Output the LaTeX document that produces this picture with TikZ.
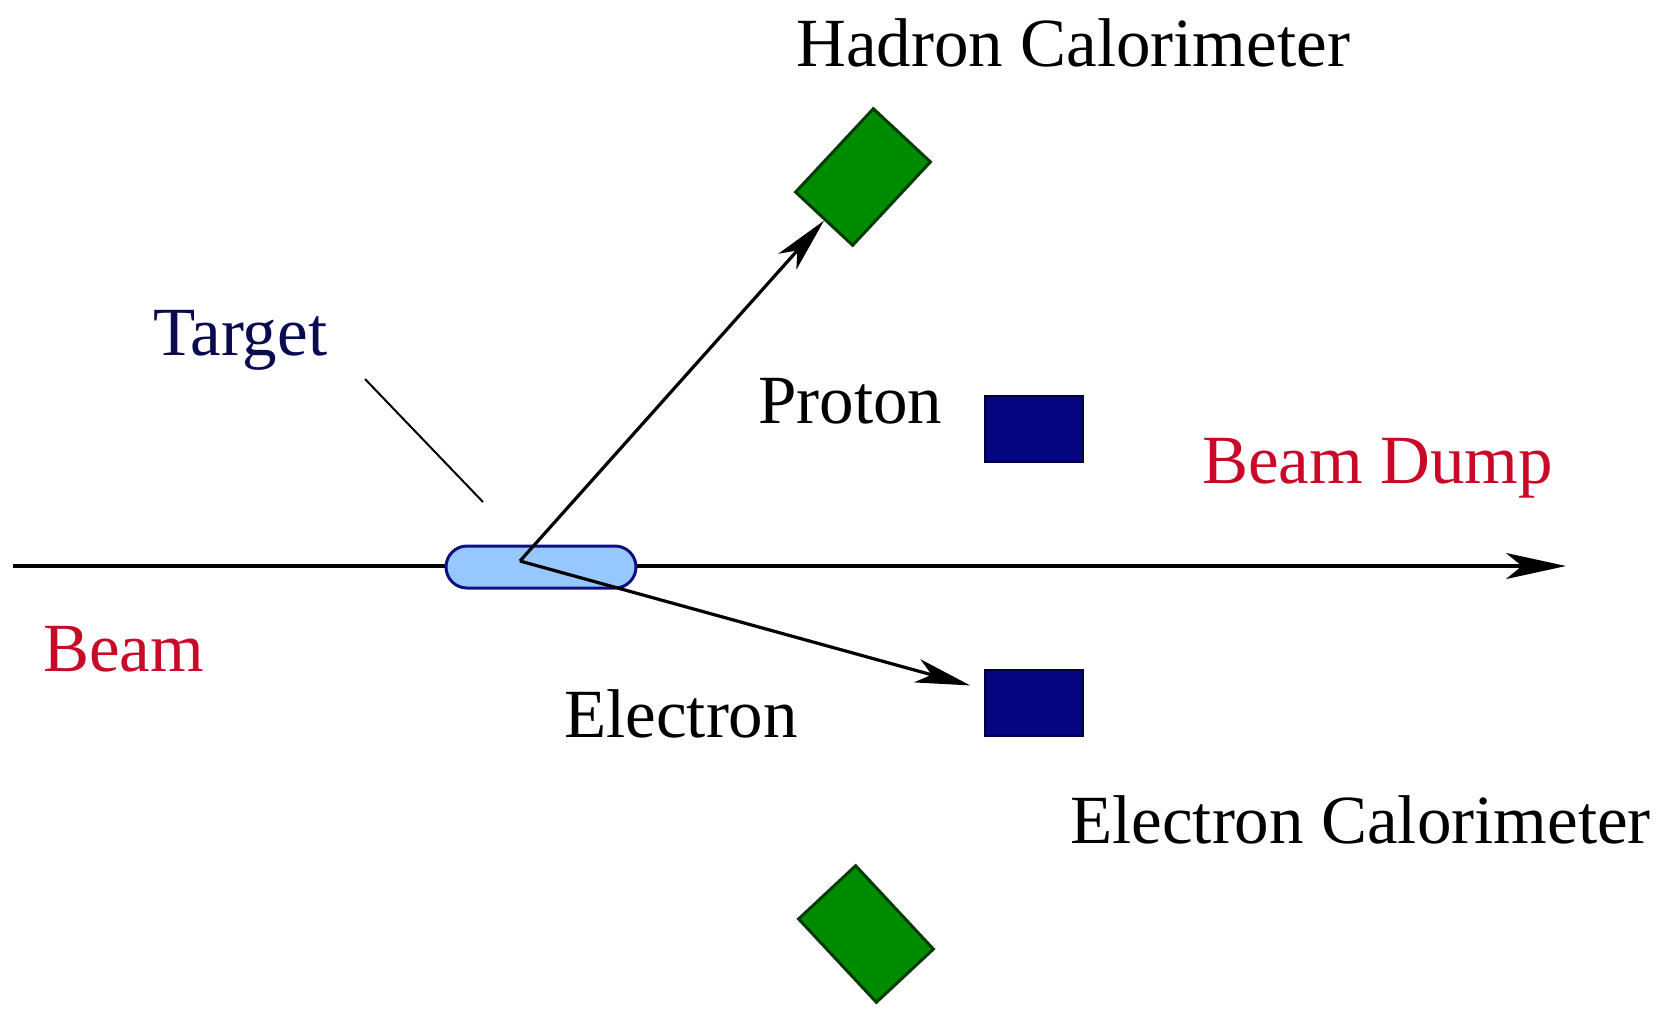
\documentclass[tikz,border=0pt]{standalone}
\usepackage{fontspec}
\setmainfont{Liberation Serif}
\usetikzlibrary{arrows.meta}
\definecolor{labred}{RGB}{200,10,40}
\definecolor{labnavy}{RGB}{10,10,80}
\definecolor{calgreen}{RGB}{0,140,0}
\definecolor{calgreendark}{RGB}{0,60,0}
\definecolor{calblue}{RGB}{5,5,130}
\definecolor{calbluedark}{RGB}{0,0,60}
\definecolor{tgtfill}{RGB}{150,200,255}
\definecolor{tgtdraw}{RGB}{15,15,130}
\begin{document}
\begin{tikzpicture}[x=1pt,y=-1pt,
  lbl/.style={anchor=base west,inner sep=0pt,font=\fontsize{69}{80}\selectfont},
  hcalbox/.style={draw=calgreendark,fill=calgreen,line width=3pt,minimum width=114pt,minimum height=78pt,inner sep=0pt},
  ecalbox/.style={draw=calbluedark,fill=calblue,line width=2.5pt,minimum width=98pt,minimum height=66pt,inner sep=0pt},
  track/.style={line width=3.2pt,-{Stealth[length=55pt,width=24pt,inset=15pt]}},
  beamline/.style={line width=3.6pt,-{Stealth[length=60pt,width=26pt,inset=16pt]}}]
\useasboundingbox (0,0) rectangle (1669,1010);
% coordinates
\coordinate (beamstart) at (13,566);
\coordinate (beamend) at (1566,566);
\coordinate (vertex) at (520,561);
\coordinate (ptrstart) at (365,379);
\coordinate (ptrend) at (483,502);
% beam
\draw[beamline] (beamstart) -- (beamend);
% target
\node[draw=tgtdraw,fill=tgtfill,line width=3pt,minimum width=190pt,minimum height=42pt,rounded corners=21pt,inner sep=0pt] (target) at (541,567) {};
% calorimeters
\node[hcalbox,rotate=47] (hcal) at (863,177) {};
\node[hcalbox,rotate=-47] (hcal2) at (866,934) {};
\node[ecalbox] (pblock) at (1034,429) {};
\node[ecalbox] (ecal) at (1034,703) {};
% tracks
\draw[track] (vertex) -- (hcal);
\draw[track,shorten >=14pt] (vertex) -- (ecal);
% target pointer
\draw[line width=2pt] (ptrstart) -- (ptrend);
% labels
\node[lbl] (lhcal) at (796,66) {Hadron Calorimeter};
\node[lbl,text=labnavy] (ltarget) at (153,355) {Target};
\node[lbl] (lproton) at (758,423) {Proton};
\node[lbl,text=labred] (ldump) at (1202,483) {Beam Dump};
\node[lbl,text=labred] (lbeam) at (43,671) {Beam};
\node[lbl] (lelectron) at (564,737) {Electron};
\node[lbl] (lecal) at (1070,843) {Electron Calorimeter};
\end{tikzpicture}
\end{document}
